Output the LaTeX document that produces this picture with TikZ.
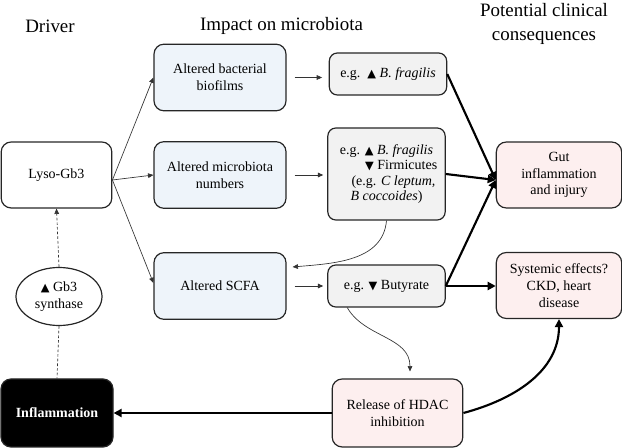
\documentclass[tikz,border=0pt]{standalone}
\usepackage{fontspec}
\newfontfamily\timesfont{Liberation Serif}
\newfontfamily\trifont{DejaVu Sans}
\usetikzlibrary{positioning,calc,arrows.meta,shapes.geometric}
\definecolor{bluefill}{HTML}{EEF4FA}
\definecolor{greyfill}{HTML}{F2F2F2}
\definecolor{pinkfill}{HTML}{FDEFEF}
\newcommand\uptri{{\trifont\fontsize{8.5}{8.5}\selectfont ▲}}
\newcommand\downtri{{\trifont\fontsize{8.5}{8.5}\selectfont ▼}}
\tikzset{
  box/.style={draw=black!85,line width=0.9pt,rounded corners=7.5pt,align=center,
    inner sep=2pt,font=\timesfont\fontsize{10.5}{12.5}\selectfont},
  bluebox/.style={box,fill=bluefill,minimum width=99pt,minimum height=50pt},
  greybox/.style={box,fill=greyfill,rounded corners=6pt,minimum width=88pt},
  pinkbox/.style={box,fill=pinkfill,minimum width=94pt,minimum height=49.5pt},
  title/.style={font=\timesfont\fontsize{14.2}{17}\selectfont,align=center},
  thinarrow/.style={draw=black!80,line width=0.5pt,-{Triangle[length=4pt,width=3.5pt]}},
  thickarrow/.style={line width=1.6pt,-{Triangle[length=6pt,width=6pt]}},
}
\begin{document}
\begin{tikzpicture}[x=0.75pt,y=-0.75pt]
\useasboundingbox (0,0) rectangle (622,448);
% column titles
\node[title] (tdriver) at (50,26) {Driver};
\node[title] (timpact) at (281.5,26) {Impact on microbiota};
\node[title,font=\timesfont\fontsize{14.2}{18.5}\selectfont] (tclin) at (544,24) {Potential clinical\\consequences};
% driver column
\node[box,minimum width=83pt,minimum height=49.5pt] (lyso) at (56.5,175) {Lyso-Gb3};
\node[ellipse,draw=black!85,line width=0.9pt,minimum width=64.5pt,minimum height=43.5pt,
  inner sep=0pt,align=center,font=\timesfont\fontsize{10.5}{12.5}\selectfont] (gbsyn) at (59,296.5) {\uptri{} Gb3\\synthase};
\node[box,fill=black,text=white,font=\timesfont\bfseries\fontsize{10.5}{12.5}\selectfont,
  minimum width=84pt,minimum height=51pt] (infl) at (57,413) {Inflammation};
% microbiota column
\node[bluebox] (biofilm) at (220,77.5) {Altered bacterial\\biofilms};
\node[bluebox] (numbers) at (220,175) {Altered microbiota\\numbers};
\node[bluebox] (scfa) at (220,286) {Altered SCFA};
\node[greybox,minimum height=31.5pt] (frag) at (388,74) {e.g.\ \ \uptri{} \textit{B. fragilis}};
\node[greybox,minimum height=69pt,font=\timesfont\fontsize{10.5}{11.6}\selectfont] (firmi) at (386.5,174)
  {e.g. \uptri{} \textit{B. fragilis}\\\hspace*{2.1em}\downtri{} Firmicutes\\\hspace*{1em}(e.g. \textit{C leptum,}\\\textit{B coccoides})};
\node[greybox,minimum height=31.5pt] (buty) at (386.5,286) {e.g. \downtri{} Butyrate};
\node[box,fill=pinkfill,minimum width=98pt,minimum height=51pt] (hdac) at (397.5,413) {Release of HDAC\\inhibition};
% consequences column
\node[pinkbox] (gut) at (559,175) {Gut\\inflammation\\and injury};
\node[pinkbox] (sys) at (559,285.5) {Systemic effects?\\CKD, heart\\disease};
% thin connectors
\draw[thinarrow] ($(lyso.east)+(0,5)$) -- (biofilm.west);
\draw[thinarrow] ($(lyso.east)+(0,5)$) -- (numbers.west);
\draw[thinarrow] ($(lyso.east)+(0,5)$) -- ($(scfa.west)+(0,-3)$);
\draw[thinarrow,shorten <=6pt,shorten >=5pt] (biofilm.east) -- (biofilm.east -| frag.west);
\draw[thinarrow,shorten <=6pt,shorten >=3pt] (numbers.east) -- (numbers.east -| firmi.west);
\draw[thinarrow,shorten <=6pt,shorten >=3pt] (scfa.east) -- (buty.west);
\draw[thinarrow] (firmi.south) to[out=-95,in=5] ($(scfa.east)+(6,-19)$);
\draw[thinarrow] ($(buty.south west)+(20,0)$) to[out=-60,in=90] ($(hdac.north)+(12.5,-7)$);
\draw[thinarrow,dash pattern=on 2pt off 1.5pt] (gbsyn.north) -- (lyso.south);
\draw[draw=black!80,line width=0.5pt,dash pattern=on 2pt off 1.5pt] (gbsyn.south) -- (infl.north);
% thick connectors
\draw[thickarrow] (frag.east) -- ($(gut.west)+(0,5)$);
\draw[thickarrow] (firmi.east) -- ($(gut.west)+(0,5)$);
\draw[thickarrow] (buty.east) -- ($(gut.west)+(0,5)$);
\draw[thickarrow] (buty.east) -- (buty.east -| sys.west);
\draw[thickarrow] (hdac.east) to[out=15,in=-90] (sys.south);
\draw[thickarrow] (hdac.west) -- (infl.east);
\end{tikzpicture}
\end{document}
